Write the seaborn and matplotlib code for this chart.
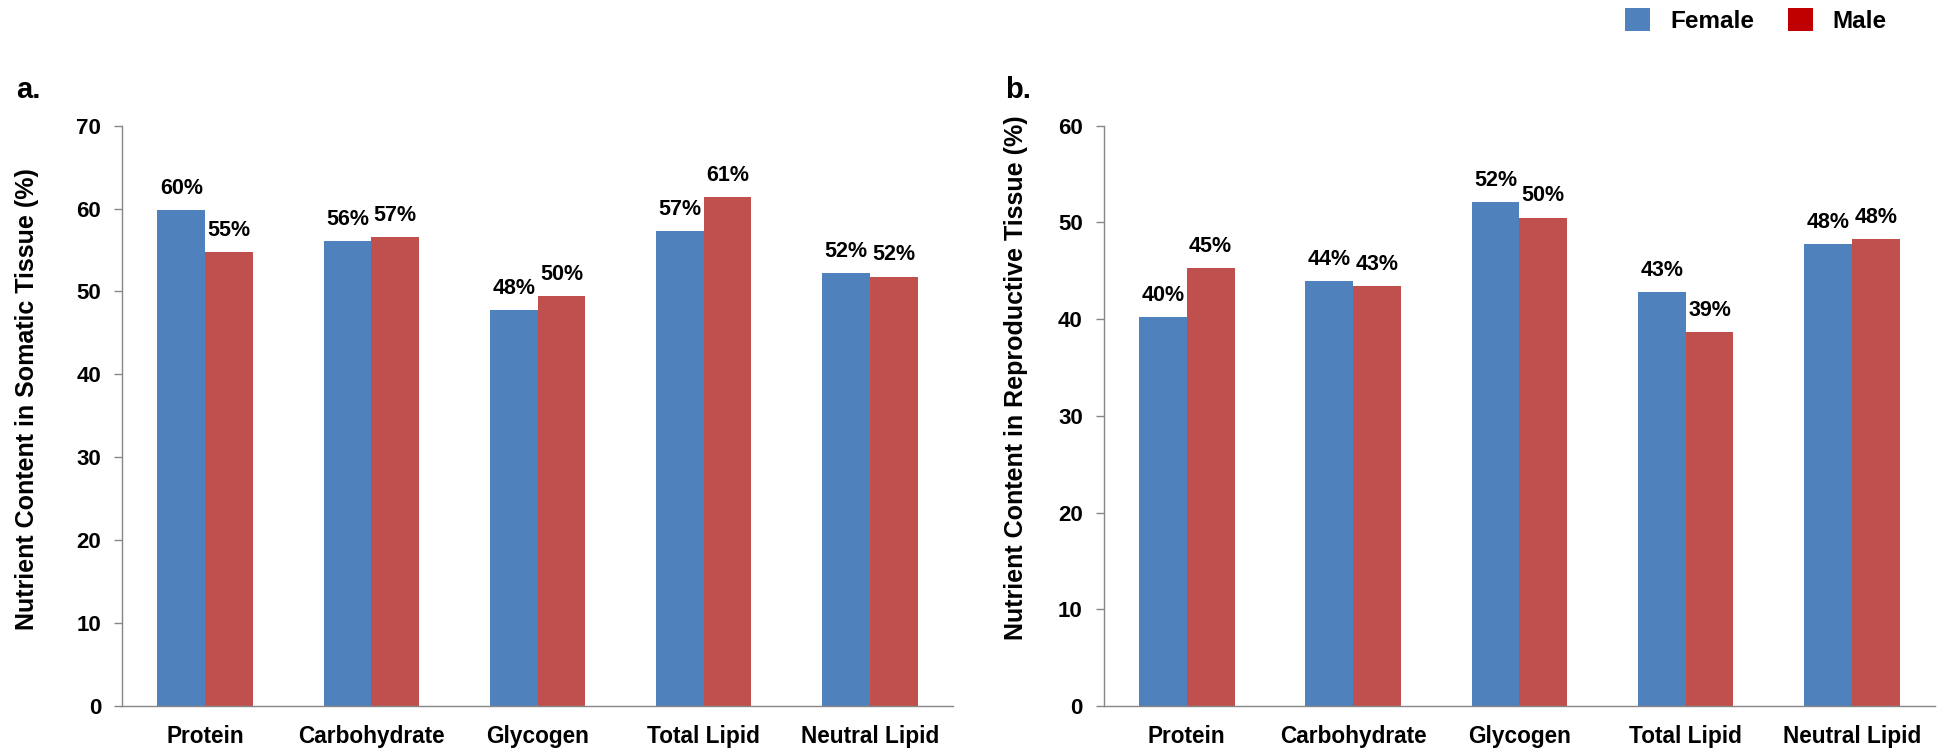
import matplotlib
matplotlib.use("Agg")
import matplotlib.pyplot as plt
from matplotlib.patches import Patch
import numpy as np
import pandas as pd
import seaborn as sns

# Nutrient categories and sexes
nutrients = ["Protein", "Carbohydrate", "Glycogen", "Total Lipid", "Neutral Lipid"]
sexes = ["Female", "Male"]

# Percent nutrient content, somatic tissue (panel a)
somatic_female = [59.8, 56.1, 47.8, 57.3, 52.2]
somatic_male = [54.8, 56.6, 49.5, 61.4, 51.8]

# Percent nutrient content, reproductive tissue (panel b)
repro_female = [40.2, 43.9, 52.1, 42.8, 47.8]
repro_male = [45.3, 43.4, 50.5, 38.7, 48.3]

y_ticks_a = [0, 10, 20, 30, 40, 50, 60, 70]
y_ticks_b = [0, 10, 20, 30, 40, 50, 60]

BLUE = "#4F81BD"
RED = "#C0504D"
LEGEND_RED = "#C00000"
AXIS_GREY = "#868686"


def tidy(female, male):
    return pd.DataFrame({
        "Nutrient": nutrients * 2,
        "Sex": ["Female"] * len(nutrients) + ["Male"] * len(nutrients),
        "Value": list(female) + list(male),
    })


sns.set_theme(style="white")
plt.rcParams["font.family"] = ["Liberation Sans", "DejaVu Sans"]
plt.rcParams["font.weight"] = "bold"
plt.rcParams["text.color"] = "black"
plt.rcParams["axes.labelcolor"] = "black"

fig = plt.figure(figsize=(19.43, 7.5), dpi=100)
ax_a = fig.add_axes([0.0628, 0.0587, 0.4277, 0.7737])
ax_b = fig.add_axes([0.5680, 0.0587, 0.4280, 0.7737])

panels = [
    (ax_a, tidy(somatic_female, somatic_male), y_ticks_a,
     "Nutrient Content in Somatic Tissue (%)", (-0.100, 0.529)),
    (ax_b, tidy(repro_female, repro_male), y_ticks_b,
     "Nutrient Content in Reproductive Tissue (%)", (-0.091, 0.565)),
]

for ax, df, yt, ylab, ylab_xy in panels:
    sns.barplot(data=df, x="Nutrient", y="Value", hue="Sex",
                order=nutrients, hue_order=sexes,
                palette=[BLUE, RED], width=0.574, gap=0,
                saturation=1, linewidth=0, legend=False, ax=ax)

    for cont in ax.containers:
        ax.bar_label(cont, labels=[f"{b.get_height():.0f}%" for b in cont],
                     padding=8, fontsize=15.5, fontweight="bold", color="black")

    ax.set_xlim(-0.5, 4.5)
    ax.set_ylim(yt[0], yt[-1])
    ax.set_yticks(yt)
    ax.set_yticklabels([str(v) for v in yt], fontsize=16, fontweight="bold")

    # category labels centred, tick marks on category boundaries
    ax.set_xticks(np.arange(len(nutrients)))
    ax.set_xticklabels(nutrients, fontsize=16.3, fontweight="bold")
    ax.tick_params(axis="x", which="major", length=0, pad=14,
                   labelcolor="black")
    ax.set_xticks(np.arange(len(nutrients)) - 0.5, minor=True)
    ax.tick_params(axis="x", which="minor", length=5.5, width=1,
                   color=AXIS_GREY, direction="out")
    ax.tick_params(axis="y", length=5.5, width=1, color=AXIS_GREY,
                   labelcolor="black", direction="out", pad=9.5, left=True)

    ax.set_xlabel("")
    ax.set_ylabel(ylab, fontsize=18, fontweight="bold")
    ax.yaxis.set_label_coords(*ylab_xy)

    for side in ("top", "right"):
        ax.spines[side].set_visible(False)
    for side in ("left", "bottom"):
        ax.spines[side].set_color(AXIS_GREY)
        ax.spines[side].set_linewidth(1)
    ax.grid(False)

fig.text(16 / 1943, 1 - 98 / 750, "a.", fontsize=21, fontweight="bold",
         va="baseline", ha="left")
fig.text(1005 / 1943, 1 - 98 / 750, "b.", fontsize=21, fontweight="bold",
         va="baseline", ha="left")

handles = [Patch(facecolor=BLUE, edgecolor="none", label="Female"),
           Patch(facecolor=LEGEND_RED, edgecolor="none", label="Male")]
fig.legend(handles=handles, loc="upper right", ncol=2, frameon=False,
           bbox_to_anchor=(1887 / 1943, 1 - 8 / 750), borderpad=0,
           borderaxespad=0, prop={"weight": "bold", "size": 17.5},
           handlelength=1.03, handleheight=1.07, handletextpad=0.82,
           columnspacing=1.39)

fig.savefig("out.png", dpi=100)
